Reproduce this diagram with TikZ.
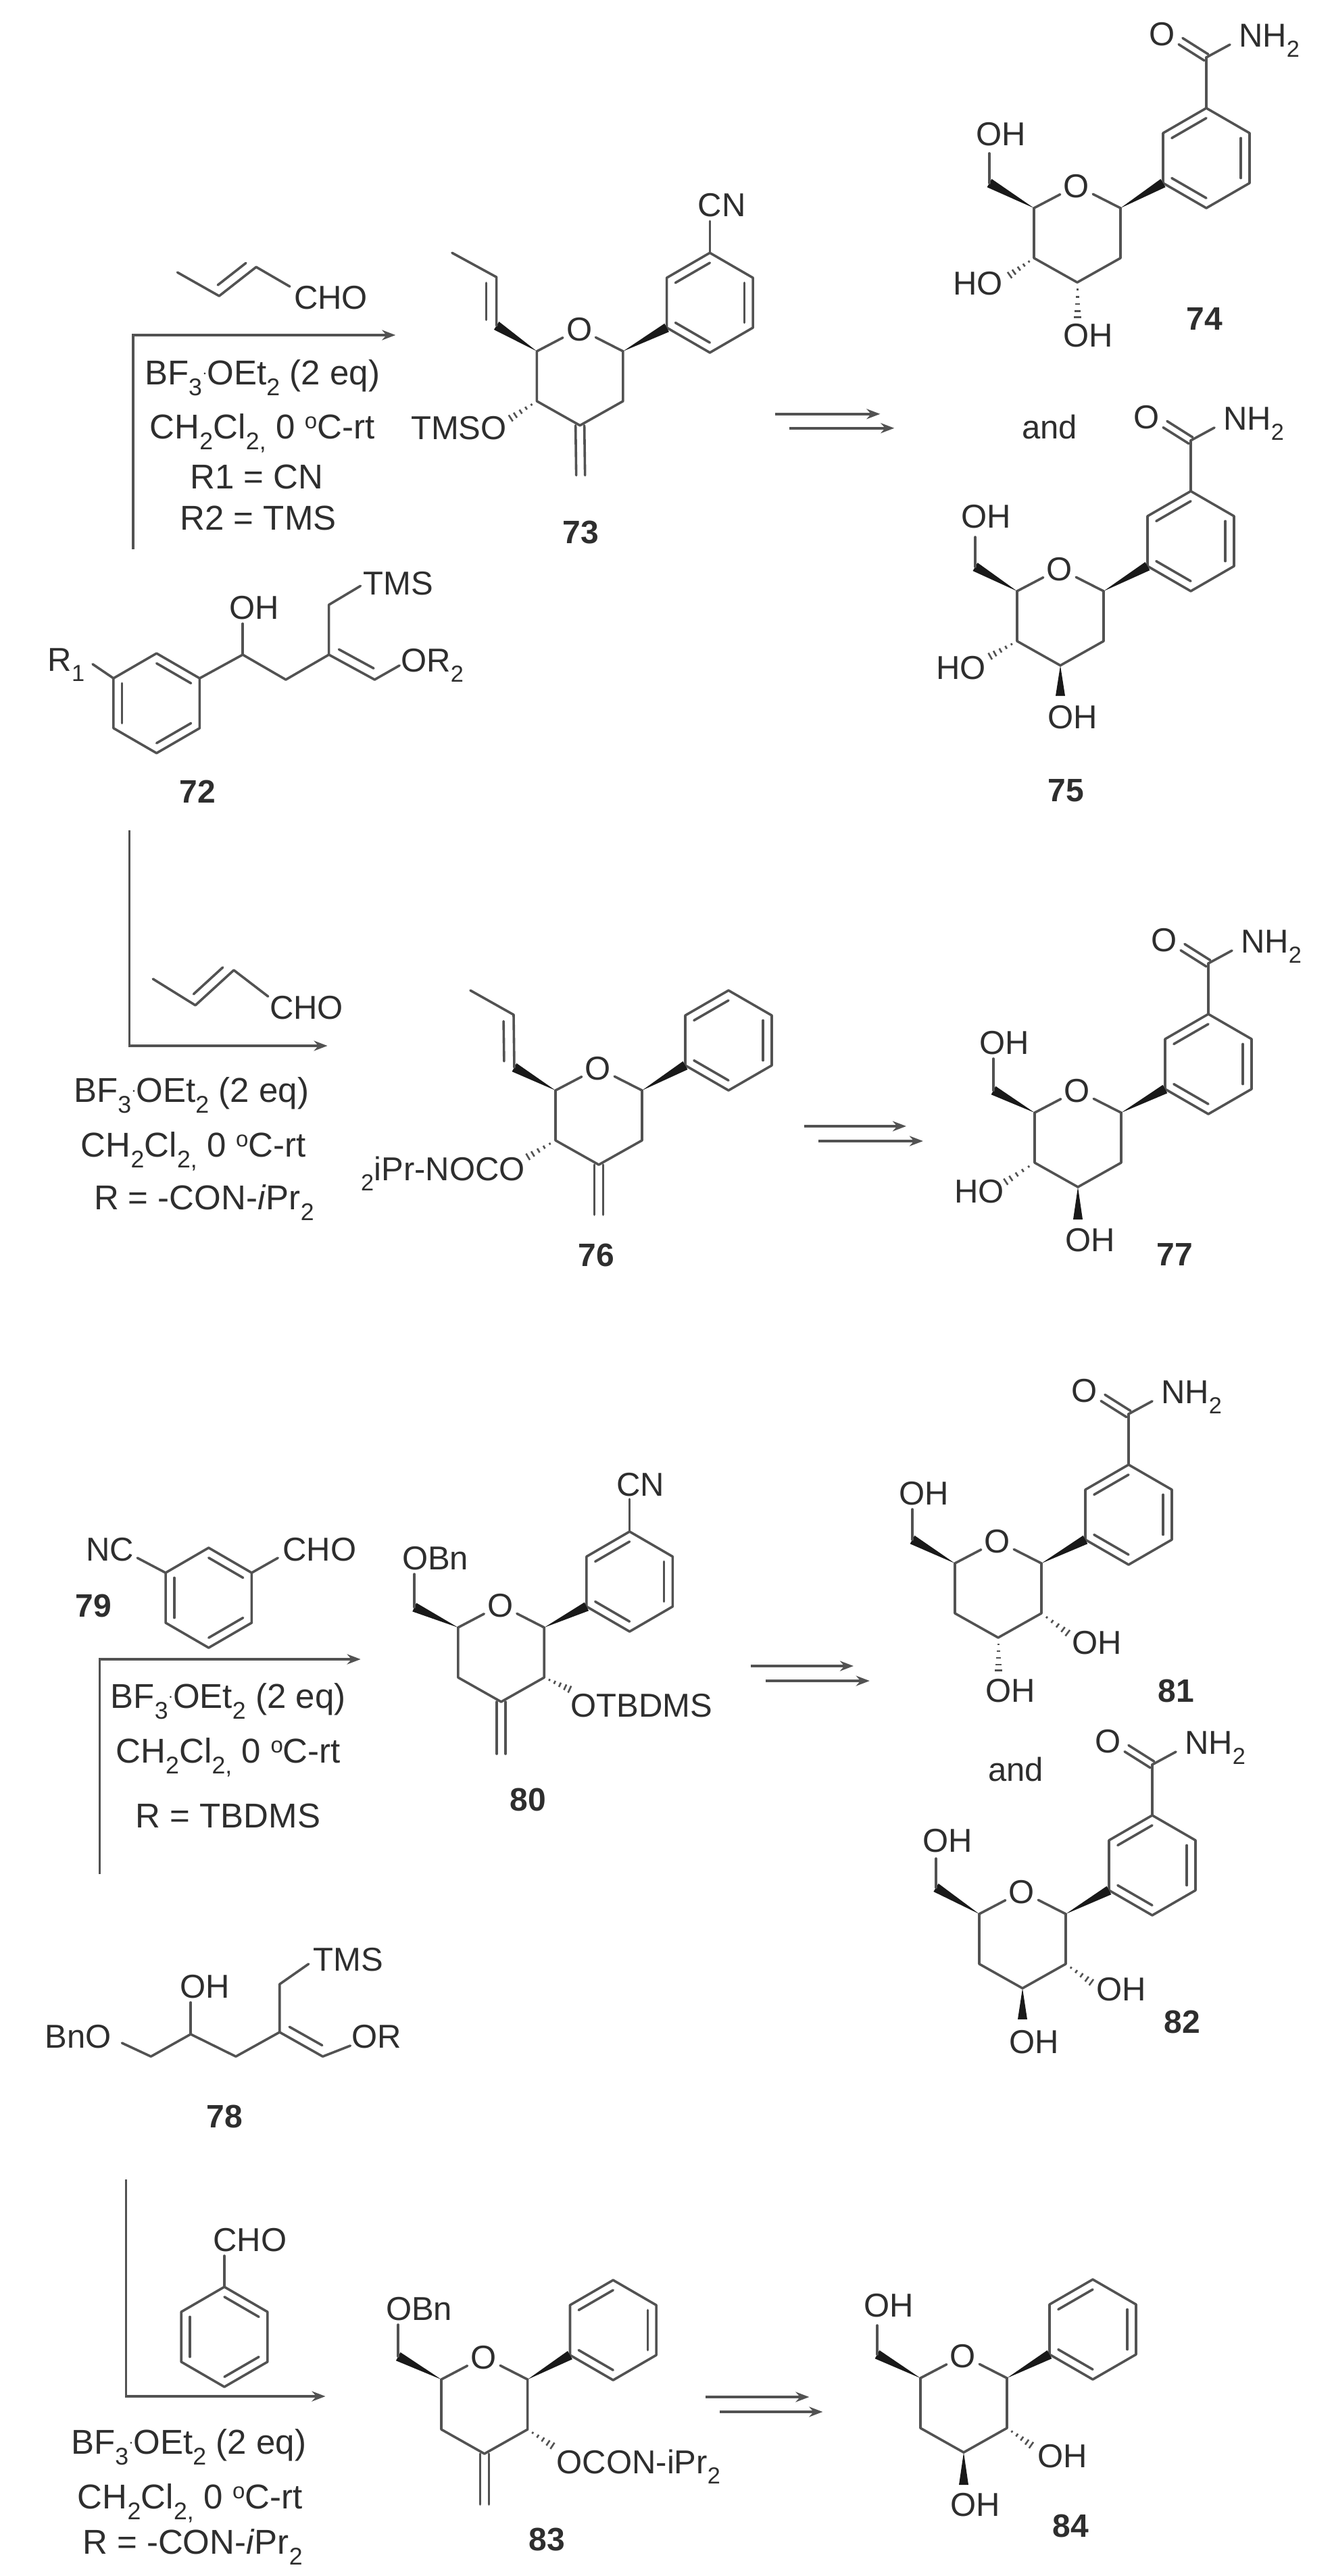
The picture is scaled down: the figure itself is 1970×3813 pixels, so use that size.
\documentclass[tikz,border=0pt]{standalone}
\usepackage{fontspec}
\setmainfont{Liberation Sans}
\usetikzlibrary{calc,arrows.meta}
\definecolor{linecol}{gray}{0.32}
\definecolor{txtcol}{gray}{0.18}
\tikzset{
  bond/.style={line width=3.6pt,draw=linecol,line cap=round,line join=round},
  hashline/.style={line width=2.6pt,draw=linecol},
  wedgefill/.style={fill=black!90,draw=none},
  atom/.style={font=\fontsize{49}{52}\selectfont,text=txtcol,inner sep=2pt,text height=35pt,text depth=0pt},
  reagent/.style={font=\fontsize{51}{54}\selectfont,text=txtcol,inner sep=0pt,text height=35pt,text depth=0pt},
  cpd/.style={font=\fontsize{48}{50}\selectfont\bfseries,text=txtcol,inner sep=0pt,text height=35pt,text depth=0pt},
  rxn/.style={line width=3.8pt,draw=linecol,-{Stealth[length=20pt,width=15pt,fill=black]}},
  sectA/.style={x=0.996pt,y=-0.998pt,xshift=0.6pt},
  sectB/.style={x=0.997pt,y=-1pt,yshift=2pt},
  sectC/.style={x=0.995pt,y=-1pt,xshift=0.3pt},
  sectD/.style={x=0.997pt,y=-1pt,xshift=2pt,yshift=2pt}
}
\newcommand\PyranRing[3]{%
  \coordinate (#1C1) at ({#2+64},{#3-37});
  \coordinate (#1C2) at ({#2+64},{#3+37});
  \coordinate (#1C3) at (#2,{#3+73});
  \coordinate (#1C4) at ({#2-64},{#3+37});
  \coordinate (#1C5) at ({#2-64},{#3-37});
  \node[atom,inner sep=5pt] (#1O) at ({#2-1},{#3-70}) {O};
  \draw[bond] (#1O) -- (#1C1) -- (#1C2) -- (#1C3) -- (#1C4) -- (#1C5) -- (#1O);
}
\newcommand\ArylRing[4]{%
  \coordinate (#1c) at (#2,#3);
  \coordinate (#1t) at (#2,{#3-74});
  \coordinate (#1ur) at ({#2+64},{#3-37});
  \coordinate (#1lr) at ({#2+64},{#3+37});
  \coordinate (#1b) at (#2,{#3+74});
  \coordinate (#1ll) at ({#2-64},{#3+37});
  \coordinate (#1ul) at ({#2-64},{#3-37});
  \draw[bond] (#1t) -- (#1ur) -- (#1lr) -- (#1b) -- (#1ll) -- (#1ul) -- cycle;
  \ifx#4A
    \InnerBond{#1}{ul}{t}\InnerBond{#1}{ur}{lr}\InnerBond{#1}{ll}{b}
  \else
    \InnerBond{#1}{t}{ur}\InnerBond{#1}{lr}{b}\InnerBond{#1}{ll}{ul}
  \fi
}
\newcommand\InnerBond[3]{%
  \draw[bond] ($(#1#2)!0.2!(#1c)$) -- ($(#1#3)!0.2!(#1c)$);
}
\newcommand\WedgeBond[2]{%
  \fill[wedgefill] (#1) -- ($(#2)!7pt!90:(#1)$) -- ($(#2)!7pt!-90:(#1)$) -- cycle;
}
\newcommand\HashBond[2]{%
  \foreach \hp/\hw in {0.2/1.5,0.4/2.5,0.6/3.5,0.8/4.5,0.97/5.5}{
    \draw[hashline] ($(#1)!\hp!(#2)!\hw pt!90:(#2)$) -- ($(#1)!\hp!(#2)!\hw pt!-90:(#2)$);
  }
}
\newcommand\ParallelBond[3]{%
  \draw[bond] ($(#1)!0.12!(#2)!#3!90:(#2)$) -- ($(#1)!0.88!(#2)!#3!-90:(#1)$);
}
\newcommand\TwinBond[2]{%
  \draw[bond] ($(#1)!5.5pt!90:(#2)$) -- ($(#2)!5.5pt!-90:(#1)$);
  \draw[bond] ($(#1)!5.5pt!-90:(#2)$) -- ($(#2)!5.5pt!90:(#1)$);
}
\newcommand\ExoBond[2]{%
  \draw[bond] ([xshift=-6.5pt]#1) -- ([xshift=-6.5pt]#2);
  \draw[bond] ([xshift=6.5pt]#1) -- ([xshift=6.5pt]#2);
}
\newcommand\Amide[2]{%
  \coordinate (#1C) at ($(#2)+(0,-75)$);
  \coordinate (#1Oe) at ($(#1C)+(-38,-24)$);
  \coordinate (#1Ne) at ($(#1C)+(35,-19)$);
  \node[atom] (#1O) at ($(#1C)+(-65,-35)$) {O};
  \node[atom,anchor=west] (#1N) at ($(#1C)+(46,-33)$) {NH\textsubscript{2}};
  \draw[bond] (#2) -- (#1C);
  \TwinBond{#1C}{#1Oe}
  \draw[bond] (#1C) -- (#1Ne);
}
\newcommand\DegC{\raisebox{15pt}{\fontsize{33}{33}\selectfont o}}
\begin{document}
\begin{tikzpicture}[x=1pt,y=-1pt]
\fill[white] (0,0) rectangle (1970,3813);
\useasboundingbox (0,0) rectangle (1970,3813);

% ---------- 74
\PyranRing{pA}{1594}{345}
\ArylRing{rA}{1785}{234}{A}
\WedgeBond{pAC1}{rAll}
\Amide{qA}{rAt}
\coordinate (cA) at (1464,271);
\coordinate (eA) at (1464,227);
\WedgeBond{pAC5}{cA}
\draw[bond] (cA) -- (eA);
\node[atom] (oA) at (1481,198) {OH};
\coordinate (hA) at (1493,408);
\HashBond{pAC4}{hA}
\node[atom] (oAb) at (1447,419) {HO};
\coordinate (kA) at (1594,471);
\HashBond{pAC3}{kA}
\node[atom] (oAc) at (1610,496) {OH};
\node[cpd] (nA) at (1782,471) {74};

% ---------- 75
\PyranRing{pB}{1569}{912}
\ArylRing{rB}{1762}{801}{A}
\WedgeBond{pBC1}{rBll}
\Amide{qB}{rBt}
\coordinate (cB) at (1443,839);
\coordinate (eB) at (1443,795);
\WedgeBond{pBC5}{cB}
\draw[bond] (cB) -- (eB);
\node[atom] (oB) at (1459,764) {OH};
\coordinate (hB) at (1464,972);
\HashBond{pBC4}{hB}
\node[atom] (oBb) at (1422,988) {HO};
\coordinate (kB) at (1569,1030);
\WedgeBond{pBC3}{kB}
\node[atom] (oBc) at (1587,1061) {OH};
\node[cpd] (nB) at (1577,1169) {75};
\node[atom] (andA) at (1553,632) {and};

\begin{scope}[sectA]
% ---------- 73
\PyranRing{pC}{861}{558}
\ArylRing{rC}{1054}{449}{A}
\WedgeBond{pCC1}{rCll}
\coordinate (eC) at (1054,328);
\draw[bond] (rCt) -- (eC);
\node[atom] (cnC) at (1072,304) {CN};
\coordinate (vCa) at (737,483);
\coordinate (vCb) at (737,411);
\coordinate (vCc) at (671,375);
\WedgeBond{pCC5}{vCa}
\draw[bond] (vCa) -- (vCb) -- (vCc);
\ParallelBond{vCa}{vCb}{15pt}
\coordinate (hC) at (757,621);
\HashBond{pCC4}{hC}
\node[atom] (tC) at (681,634) {TMSO};
\coordinate (mC) at (862,705);
\ExoBond{pCC3}{mC}
\node[cpd] (nC) at (862,789) {73};

% arrows 73
\coordinate (a1s) at (1151,614); \coordinate (a1e) at (1307,614);
\coordinate (a2s) at (1172,635); \coordinate (a2e) at (1328,635);
\draw[rxn] (a1s) -- (a1e);
\draw[rxn] (a2s) -- (a2e);

% reaction 72 -> 73
\coordinate (b1s) at (197,815); \coordinate (b1m) at (197,497); \coordinate (b1e) at (587,497);
\draw[rxn] (b1s) -- (b1m) -- (b1e);
\coordinate (cr1) at (263,404); \coordinate (cr2) at (325,439); \coordinate (cr3) at (380,396); \coordinate (cr4) at (430,425);
\draw[bond] (cr1) -- (cr2) -- (cr3) -- (cr4);
\ParallelBond{cr2}{cr3}{14pt}
\node[atom] (crl) at (491,441) {CHO};
\node[reagent] (t1a) at (389,553) {BF\textsubscript{3}\raisebox{10pt}{$\cdot$}OEt\textsubscript{2} (2 eq)};
\node[reagent] (t1b) at (389,633) {CH\textsubscript{2}Cl\textsubscript{2,} 0 \DegC C-rt};
\node[reagent] (t1c) at (381,707) {R1 = CN};
\node[reagent] (t1d) at (383,769) {R2 = TMS};

% ---------- 72
\ArylRing{rD}{232}{1043}{B}
\coordinate (dR) at (137,985);
\draw[bond] (rDul) -- (dR);
\node[atom] (lR) at (98,978) {R\textsubscript{1}};
\coordinate (d1) at (360,971); \coordinate (d2) at (424,1008); \coordinate (d3) at (488,971);
\coordinate (d4) at (556,1008); \coordinate (d5) at (593,987);
\coordinate (d6) at (488,897); \coordinate (d7) at (535,869); \coordinate (d8) at (360,925);
\draw[bond] (rDur) -- (d1) -- (d2) -- (d3) -- (d4) -- (d5);
\ParallelBond{d3}{d4}{14pt}
\draw[bond] (d3) -- (d6) -- (d7);
\draw[bond] (d1) -- (d8);
\node[atom] (lOH) at (377,901) {OH};
\node[atom] (lT) at (591,865) {TMS};
\node[atom,anchor=west] (lOR) at (593,979) {OR\textsubscript{2}};
\node[cpd] (nD) at (293,1173) {72};
\end{scope}

\begin{scope}[sectB]
% reaction 72 -> 76
\coordinate (b2s) at (192,1231); \coordinate (b2m) at (192,1550); \coordinate (b2e) at (486,1550);
\draw[rxn] (b2s) -- (b2m) -- (b2e);
\coordinate (cs1) at (227,1451); \coordinate (cs2) at (290,1490); \coordinate (cs3) at (347,1438); \coordinate (cs4) at (398,1477);
\draw[bond] (cs1) -- (cs2) -- (cs3) -- (cs4);
\ParallelBond{cs2}{cs3}{14pt}
\node[atom] (csl) at (455,1493) {CHO};
\node[reagent] (t2a) at (284,1616) {BF\textsubscript{3}\raisebox{10pt}{$\cdot$}OEt\textsubscript{2} (2 eq)};
\node[reagent] (t2b) at (287,1697) {CH\textsubscript{2}Cl\textsubscript{2,} 0 \DegC C-rt};
\node[reagent] (t2c) at (303,1775) {R = -CON-\textit{i}Pr\textsubscript{2}};

% arrows 76
\coordinate (a3s) at (1194,1669); \coordinate (a3e) at (1345,1669);
\coordinate (a4s) at (1215,1691); \coordinate (a4e) at (1370,1691);
\draw[rxn] (a3s) -- (a3e);
\draw[rxn] (a4s) -- (a4e);
\end{scope}

% ---------- 76
\PyranRing{pE}{886}{1651}
\ArylRing{rE}{1078}{1540}{A}
\WedgeBond{pEC1}{rEll}
\coordinate (vEa) at (761,1580);
\coordinate (vEb) at (760,1502);
\coordinate (vEc) at (696,1466);
\WedgeBond{pEC5}{vEa}
\draw[bond] (vEa) -- (vEb) -- (vEc);
\ParallelBond{vEa}{vEb}{15pt}
\coordinate (hE) at (780,1713);
\HashBond{pEC4}{hE}
\node[atom,anchor=east] (tE) at (779,1730) {\textsubscript{2}iPr-NOCO};
\coordinate (mE) at (886,1798);
\ExoBond{pEC3}{mE}
\node[cpd] (nE) at (882,1857) {76};

% ---------- 77
\PyranRing{pF}{1595}{1684}
\ArylRing{rF}{1788}{1575}{A}
\WedgeBond{pFC1}{rFll}
\Amide{qF}{rFt}
\coordinate (cF) at (1470,1614);
\coordinate (eF) at (1470,1567);
\WedgeBond{pFC5}{cF}
\draw[bond] (cF) -- (eF);
\node[atom] (oF) at (1486,1543) {OH};
\coordinate (hF) at (1487,1750);
\HashBond{pFC4}{hF}
\node[atom] (oFb) at (1449,1763) {HO};
\coordinate (kF) at (1595,1805);
\WedgeBond{pFC3}{kF}
\node[atom] (oFc) at (1613,1835) {OH};
\node[cpd] (nF) at (1738,1856) {77};

\begin{scope}[sectC]
% ---------- 79
\ArylRing{rG}{310}{2365}{B}
\coordinate (gNe) at (204,2306); \coordinate (gCe) at (413,2306);
\draw[bond] (rGul) -- (gNe);
\draw[bond] (rGur) -- (gCe);
\node[atom] (gN) at (163,2293) {NC};
\node[atom] (gC) at (475,2293) {CHO};
\node[cpd] (nG) at (139,2376) {79};

% reaction 78 -> 80
\coordinate (b3s) at (148,2774); \coordinate (b3m) at (148,2456); \coordinate (b3e) at (536,2456);
\draw[rxn] (b3s) -- (b3m) -- (b3e);
\node[reagent] (t3a) at (339,2511) {BF\textsubscript{3}\raisebox{10pt}{$\cdot$}OEt\textsubscript{2} (2 eq)};
\node[reagent] (t3b) at (339,2592) {CH\textsubscript{2}Cl\textsubscript{2,} 0 \DegC C-rt};
\node[reagent] (t3c) at (339,2688) {R = TBDMS};

% ---------- 80
\PyranRing{pH}{745}{2446}
\ArylRing{rH}{936}{2341}{A}
\WedgeBond{pHC1}{rHll}
\coordinate (eH) at (936,2219);
\draw[bond] (rHt) -- (eH);
\node[atom] (cnH) at (952,2197) {CN};
\coordinate (cH) at (616,2379); \coordinate (fH) at (616,2330);
\WedgeBond{pHC5}{cH}
\draw[bond] (cH) -- (fH);
\node[atom] (bnH) at (647,2306) {OBn};
\coordinate (hH) at (848,2501);
\HashBond{pHC2}{hH}
\node[atom,anchor=west] (tH) at (846,2524) {OTBDMS};
\coordinate (mH) at (745,2596);
\ExoBond{pHC3}{mH}
\node[cpd] (nH) at (785,2663) {80};

% arrows 80
\coordinate (a5s) at (1116,2466); \coordinate (a5e) at (1269,2466);
\coordinate (a6s) at (1138,2488); \coordinate (a6e) at (1293,2488);
\draw[rxn] (a5s) -- (a5e);
\draw[rxn] (a6s) -- (a6e);
\end{scope}

% ---------- 81
\PyranRing{pI}{1477}{2351}
\ArylRing{rI}{1670}{2242}{A}
\WedgeBond{pIC1}{rIll}
\Amide{qI}{rIt}
\coordinate (cI) at (1350,2279); \coordinate (fI) at (1350,2234);
\WedgeBond{pIC5}{cI}
\draw[bond] (cI) -- (fI);
\node[atom] (oI) at (1367,2210) {OH};
\coordinate (hI) at (1581,2418);
\HashBond{pIC2}{hI}
\node[atom] (oIb) at (1623,2431) {OH};
\coordinate (kI) at (1477,2474);
\HashBond{pIC3}{kI}
\node[atom] (oIc) at (1495,2502) {OH};
\node[cpd] (nI) at (1740,2502) {81};
\node[atom] (andB) at (1503,2619) {and};

% ---------- 82
\PyranRing{pJ}{1513}{2870}
\ArylRing{rJ}{1705}{2761}{A}
\WedgeBond{pJC1}{rJll}
\Amide{qJ}{rJt}
\coordinate (cJ) at (1385,2794); \coordinate (fJ) at (1385,2751);
\WedgeBond{pJC5}{cJ}
\draw[bond] (cJ) -- (fJ);
\node[atom] (oJ) at (1402,2724) {OH};
\coordinate (hJ) at (1616,2935);
\HashBond{pJC2}{hJ}
\node[atom] (oJb) at (1659,2944) {OH};
\coordinate (kJ) at (1513,2989);
\WedgeBond{pJC3}{kJ}
\node[atom] (oJc) at (1530,3022) {OH};
\node[cpd] (nJ) at (1749,2992) {82};

\begin{scope}[sectD]
% ---------- 78
\coordinate (k1) at (179,3026); \coordinate (k2) at (222,3046); \coordinate (k3) at (281,3013);
\coordinate (k4) at (348,3046); \coordinate (k5) at (413,3010); \coordinate (k6) at (477,3046);
\coordinate (k7) at (518,3030); \coordinate (k8) at (413,2939); \coordinate (k9) at (456,2909);
\coordinate (k10) at (281,2966);
\draw[bond] (k1) -- (k2) -- (k3) -- (k4) -- (k5) -- (k6) -- (k7);
\ParallelBond{k5}{k6}{14pt}
\draw[bond] (k5) -- (k8) -- (k9);
\draw[bond] (k3) -- (k10);
\node[atom] (lBn) at (114,3016) {BnO};
\node[atom] (lKOH) at (302,2942) {OH};
\node[atom] (lKT) at (515,2902) {TMS};
\node[atom] (lKR) at (557,3016) {OR};
\node[cpd] (nK) at (331,3134) {78};

% reaction 78 -> 83
\coordinate (b4s) at (185,3228); \coordinate (b4m) at (185,3549); \coordinate (b4e) at (481,3549);
\draw[rxn] (b4s) -- (b4m) -- (b4e);
\ArylRing{rL}{331}{3461}{B}
\coordinate (eL) at (331,3341);
\draw[bond] (rLt) -- (eL);
\node[atom] (lL) at (369,3317) {CHO};
\node[reagent] (t4a) at (278,3617) {BF\textsubscript{3}\raisebox{10pt}{$\cdot$}OEt\textsubscript{2} (2 eq)};
\node[reagent] (t4b) at (280,3698) {CH\textsubscript{2}Cl\textsubscript{2,} 0 \DegC C-rt};
\node[reagent] (t4c) at (284,3765) {R = -CON-\textit{i}Pr\textsubscript{2}};

% ---------- 83
\PyranRing{pM}{717}{3561}
\ArylRing{rM}{908}{3451}{A}
\WedgeBond{pMC1}{rMll}
\coordinate (cM) at (589,3490); \coordinate (fM) at (589,3443);
\WedgeBond{pMC5}{cM}
\draw[bond] (cM) -- (fM);
\node[atom] (bnM) at (620,3419) {OBn};
\coordinate (hM) at (819,3623);
\HashBond{pMC2}{hM}
\node[atom,anchor=west] (tM) at (822,3646) {OCON-iPr\textsubscript{2}};
\coordinate (mM) at (717,3709);
\ExoBond{pMC3}{mM}
\node[cpd] (nM) at (810,3760) {83};

% arrows 83
\coordinate (a7s) at (1045,3550); \coordinate (a7e) at (1199,3550);
\coordinate (a8s) at (1066,3572); \coordinate (a8e) at (1219,3572);
\draw[rxn] (a7s) -- (a7e);
\draw[rxn] (a8s) -- (a8e);
\end{scope}

% ---------- 84
\PyranRing{pN}{1426}{3557}
\ArylRing{rN}{1617}{3448}{A}
\WedgeBond{pNC1}{rNll}
\coordinate (cN) at (1298,3485); \coordinate (fN) at (1298,3442);
\WedgeBond{pNC5}{cN}
\draw[bond] (cN) -- (fN);
\node[atom] (oN) at (1315,3412) {OH};
\coordinate (hN) at (1527,3620);
\HashBond{pNC2}{hN}
\node[atom] (oNb) at (1572,3635) {OH};
\coordinate (kN) at (1426,3678);
\WedgeBond{pNC3}{kN}
\node[atom] (oNc) at (1443,3707) {OH};
\node[cpd] (nN) at (1584,3738) {84};
\end{tikzpicture}
\end{document}
